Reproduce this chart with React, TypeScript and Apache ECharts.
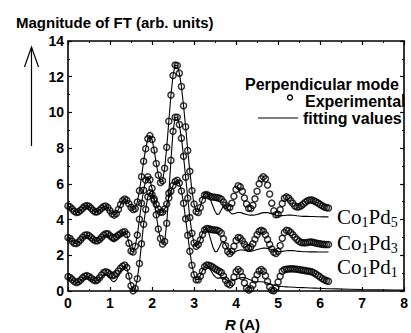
import React, { useEffect, useRef } from "react";
import * as echarts from "echarts";

// R grid: samples every 0.05 Å from 0 to 6.2
const R_STEP = 0.05;
const xTicks = [0, 1, 2, 3, 4, 5, 6, 7, 8];
const yTicks = [0, 2, 4, 6, 8, 10, 12, 14];

// Co1Pd5 (top) experimental
const pd5Exp = [
  4.76, 4.71, 4.59, 4.47, 4.40, 4.43, 4.52, 4.64, 4.74, 4.78,
  4.74, 4.63, 4.51, 4.43, 4.44, 4.52, 4.64, 4.73, 4.76, 4.66,
  4.49, 4.32, 4.25, 4.34, 4.56, 4.84, 5.06, 5.15, 5.08, 4.89,
  4.69, 4.56, 4.61, 4.98, 5.62, 6.40, 7.27, 7.97, 8.53, 8.70,
  8.49, 7.90, 7.14, 6.50, 6.08, 6.17, 6.87, 8.05, 9.51, 10.97,
  12.07, 12.65, 12.63, 12.20, 11.45, 10.37, 9.20, 7.87, 6.70, 5.62,
  4.87, 4.45, 4.40, 4.68, 5.09, 5.37, 5.40, 5.33, 5.28, 5.26,
  5.25, 5.22, 5.20, 5.14, 4.98, 4.80, 4.67, 4.67, 4.91, 5.31,
  5.69, 5.89, 5.83, 5.58, 5.21, 4.87, 4.64, 4.62, 4.80, 5.16,
  5.59, 6.00, 6.29, 6.40, 6.28, 5.93, 5.43, 4.92, 4.49, 4.27,
  4.30, 4.55, 4.90, 5.19, 5.27, 5.21, 5.06, 4.91, 4.76, 4.70,
  4.72, 4.78, 4.87, 4.97, 5.05, 5.10, 5.09, 5.06, 5.00, 4.93,
  4.85, 4.77, 4.71, 4.67, 4.65,
];
// Co1Pd5 fitting
const pd5Fit = [
  4.76, 4.71, 4.59, 4.47, 4.40, 4.43, 4.52, 4.64, 4.74, 4.78,
  4.74, 4.63, 4.51, 4.43, 4.44, 4.52, 4.64, 4.73, 4.76, 4.66,
  4.49, 4.32, 4.25, 4.34, 4.56, 4.84, 5.06, 5.15, 5.08, 4.89,
  4.69, 4.56, 4.61, 4.98, 5.62, 6.40, 7.27, 7.97, 8.53, 8.70,
  8.49, 7.90, 7.14, 6.50, 6.08, 6.17, 6.87, 8.05, 9.51, 10.97,
  12.07, 12.65, 12.63, 12.20, 11.45, 10.37, 9.20, 7.87, 6.70, 5.62,
  4.87, 4.45, 4.45, 4.75, 5.15, 5.45, 5.52, 5.35, 5.05, 4.75,
  4.45, 4.28, 4.32, 4.55, 4.75, 4.78, 4.62, 4.42, 4.32, 4.33,
  4.37, 4.40, 4.40, 4.36, 4.32, 4.28, 4.26, 4.25, 4.25, 4.26,
  4.28, 4.32, 4.36, 4.39, 4.40, 4.39, 4.36, 4.32, 4.28, 4.25,
  4.23, 4.22, 4.22, 4.23, 4.24, 4.25, 4.25, 4.24, 4.23, 4.21,
  4.20, 4.19, 4.18, 4.18, 4.18, 4.17, 4.17, 4.17, 4.16, 4.16,
  4.16, 4.15, 4.15, 4.15, 4.15,
];

// Co1Pd3 (middle) experimental
const pd3Exp = [
  3.00, 2.94, 2.79, 2.67, 2.66, 2.74, 2.87, 3.01, 3.12, 3.15,
  3.10, 3.00, 2.89, 2.81, 2.81, 2.88, 3.01, 3.14, 3.21, 3.20,
  3.09, 2.99, 2.99, 3.04, 3.13, 3.21, 3.29, 3.32, 3.17, 2.68,
  2.24, 2.18, 2.51, 3.13, 4.02, 4.91, 5.64, 6.21, 6.40, 6.23,
  5.75, 5.07, 4.27, 3.47, 2.94, 2.63, 2.77, 3.79, 5.48, 7.32,
  8.94, 9.73, 9.73, 9.32, 8.56, 7.54, 6.37, 5.20, 4.11, 3.23,
  2.69, 2.50, 2.60, 2.85, 3.16, 3.41, 3.50, 3.48, 3.45, 3.43,
  3.42, 3.40, 3.35, 3.23, 2.92, 2.53, 2.22, 2.10, 2.22, 2.51,
  2.83, 2.99, 2.96, 2.81, 2.62, 2.46, 2.40, 2.47, 2.65, 2.90,
  3.15, 3.33, 3.40, 3.34, 3.15, 2.89, 2.61, 2.35, 2.17, 2.10,
  2.22, 2.55, 2.95, 3.28, 3.40, 3.37, 3.28, 3.15, 3.01, 2.88,
  2.78, 2.72, 2.70, 2.70, 2.72, 2.74, 2.74, 2.72, 2.69, 2.66,
  2.64, 2.62, 2.61, 2.60, 2.60,
];
// Co1Pd3 fitting
const pd3Fit = [
  3.00, 2.92, 2.78, 2.68, 2.66, 2.72, 2.84, 2.98, 3.08, 3.11,
  3.07, 2.97, 2.87, 2.80, 2.80, 2.86, 2.97, 3.08, 3.14, 3.10,
  2.95, 2.80, 2.75, 2.82, 2.98, 3.15, 3.27, 3.31, 3.17, 2.68,
  2.24, 2.18, 2.51, 3.13, 4.02, 4.91, 5.64, 6.21, 6.40, 6.23,
  5.75, 5.07, 4.27, 3.47, 2.94, 2.63, 2.77, 3.79, 5.48, 7.32,
  8.94, 9.73, 9.73, 9.32, 8.56, 7.54, 6.37, 5.20, 4.11, 3.23,
  2.69, 2.50, 2.62, 2.90, 3.22, 3.45, 3.48, 3.25, 2.85, 2.45,
  2.20, 2.22, 2.45, 2.70, 2.78, 2.62, 2.35, 2.18, 2.15, 2.18,
  2.22, 2.27, 2.30, 2.30, 2.28, 2.25, 2.22, 2.22, 2.25, 2.28,
  2.32, 2.35, 2.38, 2.40, 2.40, 2.38, 2.35, 2.31, 2.27, 2.24,
  2.22, 2.21, 2.22, 2.24, 2.25, 2.26, 2.27, 2.26, 2.25, 2.23,
  2.22, 2.21, 2.20, 2.20, 2.20, 2.19, 2.19, 2.19, 2.19, 2.18,
  2.18, 2.18, 2.18, 2.18, 2.18,
];

// Co1Pd1 (bottom) experimental
const pd1Exp = [
  0.80, 0.75, 0.64, 0.53, 0.48, 0.52, 0.62, 0.74, 0.83, 0.86,
  0.81, 0.72, 0.63, 0.58, 0.61, 0.74, 0.90, 1.03, 1.08, 1.03,
  0.93, 0.86, 0.89, 0.98, 1.12, 1.27, 1.39, 1.45, 1.31, 0.84,
  0.30, 0.01, 0.14, 0.69, 1.54, 2.64, 3.74, 4.57, 5.28, 5.50,
  5.41, 5.17, 4.85, 4.59, 4.41, 4.43, 4.59, 4.87, 5.21, 5.59,
  5.91, 6.13, 6.20, 6.05, 5.60, 4.91, 4.04, 3.12, 2.22, 1.44,
  0.91, 0.63, 0.63, 0.83, 1.11, 1.36, 1.45, 1.44, 1.40, 1.33,
  1.25, 1.17, 1.10, 1.03, 0.84, 0.61, 0.42, 0.35, 0.47, 0.78,
  1.08, 1.20, 1.09, 0.80, 0.45, 0.16, 0.05, 0.13, 0.34, 0.63,
  0.91, 1.12, 1.20, 1.11, 0.86, 0.53, 0.23, 0.04, 0.02, 0.19,
  0.50, 0.83, 1.10, 1.20, 1.22, 1.23, 1.24, 1.24, 1.23, 1.22,
  1.20, 1.18, 1.16, 1.14, 1.12, 1.10, 1.08, 1.02, 0.95, 0.87,
  0.79, 0.70, 0.63, 0.58, 0.55,
];
// Co1Pd1 fitting
const pd1Fit = [
  0.78, 0.72, 0.62, 0.52, 0.46, 0.49, 0.58, 0.69, 0.78, 0.80,
  0.76, 0.67, 0.59, 0.56, 0.57, 0.66, 0.78, 0.90, 0.95, 0.88,
  0.70, 0.56, 0.52, 0.62, 0.85, 1.10, 1.30, 1.40, 1.28, 0.84,
  0.30, 0.01, 0.14, 0.69, 1.54, 2.64, 3.74, 4.57, 5.28, 5.50,
  5.41, 5.17, 4.85, 4.59, 4.41, 4.43, 4.59, 4.87, 5.21, 5.59,
  5.91, 6.13, 6.20, 6.05, 5.60, 4.91, 4.04, 3.12, 2.22, 1.44,
  0.91, 0.63, 0.65, 0.86, 1.15, 1.38, 1.45, 1.35, 1.15, 0.95,
  0.80, 0.72, 0.72, 0.75, 0.74, 0.66, 0.58, 0.55, 0.56, 0.60,
  0.65, 0.70, 0.74, 0.76, 0.75, 0.71, 0.66, 0.61, 0.56, 0.53,
  0.52, 0.52, 0.52, 0.50, 0.48, 0.44, 0.40, 0.36, 0.32, 0.29,
  0.27, 0.26, 0.25, 0.24, 0.23, 0.22, 0.22, 0.21, 0.21, 0.20,
  0.20, 0.19, 0.19, 0.18, 0.18, 0.17, 0.17, 0.16, 0.16, 0.15,
  0.15, 0.14, 0.14, 0.13, 0.13,
];
// Co1Pd1 fitting continues beyond the data range
const pd1FitTail: [number, number][] = [
  [6.4, 0.12], [6.7, 0.1], [7.0, 0.08], [7.4, 0.07], [7.8, 0.06], [8.0, 0.05],
];

const sampleLabels = [
  { main: "Co", sub1: "1", main2: "Pd", sub2: "5" },
  { main: "Co", sub1: "1", main2: "Pd", sub2: "3" },
  { main: "Co", sub1: "1", main2: "Pd", sub2: "1" },
];

const SANS = "Liberation Sans, Arial, sans-serif";
const SERIF = "Liberation Serif, Times New Roman, serif";

const toPairs = (vals: number[]) =>
  vals.map((v, i) => [Math.round(i * R_STEP * 100) / 100, v]);

export default function App() {
  const ref = useRef<HTMLDivElement>(null);

  useEffect(() => {
    document.body.style.margin = "0";
    if (!ref.current) return;
    const chart = echarts.init(ref.current, undefined, { renderer: "svg" });

    const expStyle = (data: number[]) => ({
      type: "scatter",
      data: toPairs(data),
      symbol: "circle",
      symbolSize: 6,
      itemStyle: { color: "rgba(0,0,0,0)", borderColor: "#000", borderWidth: 1.5 },
      z: 2,
      silent: true,
    });
    const fitStyle = (data: any[]) => ({
      type: "line",
      data,
      showSymbol: false,
      symbol: "none",
      lineStyle: { color: "#000", width: 1.1 },
      z: 3,
      silent: true,
    });

    const axisCommon = {
      axisLine: { show: true, onZero: false, lineStyle: { color: "#000", width: 1.6 } },
      axisTick: { show: true, inside: true, length: 4, lineStyle: { color: "#000", width: 1.2 } },
      minorTick: { show: true, splitNumber: 2, length: 2, lineStyle: { color: "#000", width: 1 } },
      splitLine: { show: false },
    };
    const labelStyle = {
      color: "#000",
      fontFamily: SANS,
      fontWeight: "bold",
      fontSize: 14,
    };

    const labelY = [217, 243, 267];
    const labelGraphics = sampleLabels.map((l, i) => ({
      type: "text",
      x: 337,
      y: labelY[i],
      style: {
        text: `{m|${l.main}}{s|${l.sub1}}{m|${l.main2}}{s|${l.sub2}}`,
        textVerticalAlign: "middle",
        rich: {
          m: { fontFamily: SERIF, fontSize: 21, lineHeight: 24, verticalAlign: "middle", fill: "#000" },
          s: { fontFamily: SERIF, fontSize: 14, lineHeight: 14, verticalAlign: "bottom", fill: "#000" },
        },
      },
    }));

    chart.setOption({
      animation: false,
      backgroundColor: "#fff",
      grid: { left: 68, right: 1, top: 41, bottom: 42, containLabel: false },
      xAxis: [
        {
          type: "value",
          min: xTicks[0],
          max: xTicks[xTicks.length - 1],
          interval: 1,
          position: "bottom",
          ...axisCommon,
          axisLabel: { ...labelStyle, margin: 5 },
        },
        {
          type: "value",
          min: xTicks[0],
          max: xTicks[xTicks.length - 1],
          interval: 1,
          position: "top",
          ...axisCommon,
          axisLabel: { show: false },
        },
      ],
      yAxis: [
        {
          type: "value",
          min: yTicks[0],
          max: yTicks[yTicks.length - 1],
          interval: 2,
          position: "left",
          ...axisCommon,
          axisLabel: { ...labelStyle, margin: 4 },
        },
        {
          type: "value",
          min: yTicks[0],
          max: yTicks[yTicks.length - 1],
          interval: 2,
          position: "right",
          ...axisCommon,
          axisLabel: { show: false },
        },
      ],
      series: [
        expStyle(pd5Exp),
        expStyle(pd3Exp),
        expStyle(pd1Exp),
        fitStyle(toPairs(pd5Fit)),
        fitStyle(toPairs(pd3Fit)),
        fitStyle([...toPairs(pd1Fit), ...pd1FitTail]),
      ],
      graphic: [
        {
          type: "text",
          x: 16,
          y: 22,
          style: {
            text: "Magnitude of FT (arb. units)",
            fontFamily: SANS,
            fontWeight: "bold",
            fontSize: 15,
            fill: "#000",
            textVerticalAlign: "middle",
          },
        },
        {
          type: "line",
          shape: { x1: 31.5, y1: 47, x2: 31.5, y2: 146 },
          style: { stroke: "#000", lineWidth: 1.2 },
        },
        {
          type: "polyline",
          shape: { points: [[24.5, 67], [31.5, 47], [38.5, 67]] },
          style: { stroke: "#000", lineWidth: 1.2, fill: "none" },
        },
        {
          type: "text",
          x: 245,
          y: 84,
          style: {
            text: "Perpendicular mode",
            fontFamily: SANS,
            fontWeight: "bold",
            fontSize: 16,
            fill: "#000",
            textVerticalAlign: "middle",
          },
        },
        {
          type: "circle",
          shape: { cx: 290, cy: 97.5, r: 2.5 },
          style: { stroke: "#000", lineWidth: 1.4, fill: "none" },
        },
        {
          type: "text",
          x: 305,
          y: 101,
          style: {
            text: "Experimental",
            fontFamily: SANS,
            fontWeight: "bold",
            fontSize: 16,
            fill: "#000",
            textVerticalAlign: "middle",
          },
        },
        {
          type: "line",
          shape: { x1: 258, y1: 118, x2: 298, y2: 118 },
          style: { stroke: "#000", lineWidth: 1.2 },
        },
        {
          type: "text",
          x: 303,
          y: 118,
          style: {
            text: "fitting values",
            fontFamily: SANS,
            fontWeight: "bold",
            fontSize: 16,
            fill: "#000",
            textVerticalAlign: "middle",
          },
        },
        {
          type: "text",
          x: 225,
          y: 324,
          style: {
            text: "{i|R} {n|(A)}",
            textVerticalAlign: "middle",
            rich: {
              i: { fontFamily: SANS, fontWeight: "bold", fontStyle: "italic", fontSize: 15, fill: "#000" },
              n: { fontFamily: SANS, fontWeight: "bold", fontSize: 15, fill: "#000" },
            },
          },
        },
        ...labelGraphics,
      ],
    });

    return () => chart.dispose();
  }, []);

  return <div ref={ref} style={{ width: 411, height: 333 }} />;
}
